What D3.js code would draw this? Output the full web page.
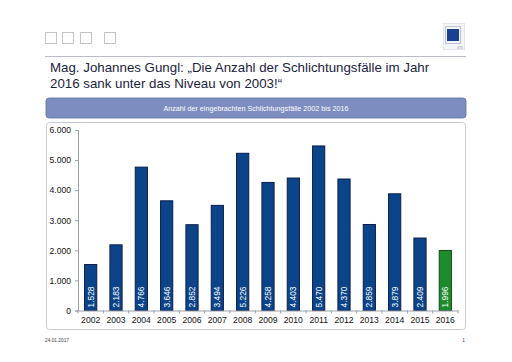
<!DOCTYPE html>
<html><head><meta charset="utf-8">
<script src="https://cdn.jsdelivr.net/npm/d3@7"></script>
<style>body{margin:0;background:#fff}svg{display:block}</style>
</head><body>
<svg id="c" width="512" height="362"></svg>
<script>
const years = ["2002","2003","2004","2005","2006","2007","2008","2009","2010","2011","2012","2013","2014","2015","2016"];
const cases = [1528,2183,4766,3646,2852,3494,5226,4258,4403,5470,4370,2859,3879,2409,1996];
const valueLabels = ["1.528","2.183","4.766","3.646","2.852","3.494","5.226","4.258","4.403","5.470","4.370","2.859","3.879","2.409","1.996"];
const yTicks = [0,1000,2000,3000,4000,5000,6000];
const yTickLabels = ["0","1.000","2.000","3.000","4.000","5.000","6.000"];
const highlightYear = "2016";
const titleLines = ["Mag. Johannes Gungl: \u201EDie Anzahl der Schlichtungsf\u00E4lle im Jahr","2016 sank unter das Niveau von 2003!\u201C"];
const subtitle = "Anzahl der eingebrachten Schlichtungsf\u00E4lle 2002 bis 2016";
const footDate = "24.01.2017";
const pageNo = "1";

const svg = d3.select("#c");
const font = "Liberation Sans, Arial, sans-serif";

// header squares
[[45,32],[62,32],[80,32],[104,32]].forEach(([x,y])=>{
  svg.append("rect").attr("x",x+0.5).attr("y",y+0.5).attr("width",11).attr("height",11)
    .attr("fill","none").attr("stroke","#c4c4c4").attr("stroke-width",1);
});
// logo
svg.append("rect").attr("x",443.5).attr("y",23.5).attr("width",21).attr("height",26).attr("fill","#f4f5f8").attr("stroke","#e4e6ee");
svg.append("rect").attr("x",445.5).attr("y",26.5).attr("width",15).attr("height",17).attr("fill","none").attr("stroke","#8890b0").attr("stroke-dasharray","1,1");
svg.append("rect").attr("x",447).attr("y",29).attr("width",12).attr("height",12).attr("fill","#1d3f8f");
svg.append("text").attr("x",463).attr("y",49).attr("font-size",3).attr("text-anchor","end").attr("fill","#9aa").attr("font-family",font).text("BTB");

// rule
svg.append("line").attr("x1",45).attr("x2",466).attr("y1",56.5).attr("y2",56.5).attr("stroke","#b8bcc8").attr("stroke-width",1);

// title
titleLines.forEach((t,i)=>{
  svg.append("text").attr("x",50).attr("y",72+i*15.5).attr("font-size",13.3).attr("fill","#1b2240")
    .attr("font-family",font).text(t);
});

// banner
svg.append("rect").attr("x",46).attr("y",98).attr("width",420).attr("height",20).attr("rx",3)
  .attr("fill","#7d8dc0").attr("stroke","#5f6f9f").attr("stroke-width",0.8);
svg.append("text").attr("x",256).attr("y",111).attr("text-anchor","middle").attr("font-size",7.2)
  .attr("fill","#fff").attr("font-family",font).text(subtitle);

// chart frame
svg.append("rect").attr("x",46.5).attr("y",122.5).attr("width",419).attr("height",207).attr("rx",3)
  .attr("fill","#fff").attr("stroke","#c6cad4").attr("stroke-width",1);

const x = d3.scaleBand().domain(years).range([78,458]).paddingInner(0.48).paddingOuter(0.24);
const y = d3.scaleLinear().domain([0,6000]).range([310.5,130]);

// y axis
const ya = svg.append("g").attr("transform","translate(78,0)")
  .call(d3.axisLeft(y).tickValues(yTicks).tickFormat((d,i)=>yTickLabels[i]).tickSize(3).tickPadding(4));
ya.select(".domain").attr("stroke","#9aa0aa");
ya.selectAll(".tick line").attr("stroke","#9aa0aa");
ya.selectAll("text").attr("font-size",8.6).attr("fill","#111").attr("font-family",font);

// bars
svg.append("g").selectAll("rect").data(years).join("rect")
  .attr("x",d=>x(d)+0.5).attr("width",x.bandwidth()-1)
  .attr("y",(d,i)=>y(cases[i])).attr("height",(d,i)=>y(0)-y(cases[i]))
  .attr("fill",d=>d===highlightYear?"#1d8a2e":"#0c4489")
  .attr("stroke",d=>d===highlightYear?"#0e4a18":"#0a1c4c").attr("stroke-width",1);

// value labels
svg.append("g").selectAll("text").data(years).join("text")
  .attr("transform",d=>`translate(${x(d)+x.bandwidth()/2+3},${y(0)-3}) rotate(-90)`)
  .attr("font-size",8.4).attr("fill","#fff").attr("font-family",font)
  .text((d,i)=>valueLabels[i]);

// x axis
const xa = svg.append("g").attr("transform",`translate(0,${y(0)})`)
  .call(d3.axisBottom(x).tickSize(0).tickPadding(6));
xa.select(".domain").attr("stroke","#9aa0aa");
xa.selectAll("text").attr("font-size",8.6).attr("fill","#111").attr("font-family",font);
// tick separators
const step = x.step();
svg.append("g").selectAll("line").data(d3.range(years.length+1)).join("line")
  .attr("x1",i=>78+i*step).attr("x2",i=>78+i*step).attr("y1",y(0)).attr("y2",y(0)+3)
  .attr("stroke","#9aa0aa");

// footer
svg.append("text").attr("x",45).attr("y",342).attr("font-size",4.8).attr("fill","#444").attr("font-family",font).text(footDate);
svg.append("text").attr("x",465).attr("y",342).attr("font-size",4.8).attr("text-anchor","end").attr("fill","#444").attr("font-family",font).text(pageNo);
</script>
</body></html>
